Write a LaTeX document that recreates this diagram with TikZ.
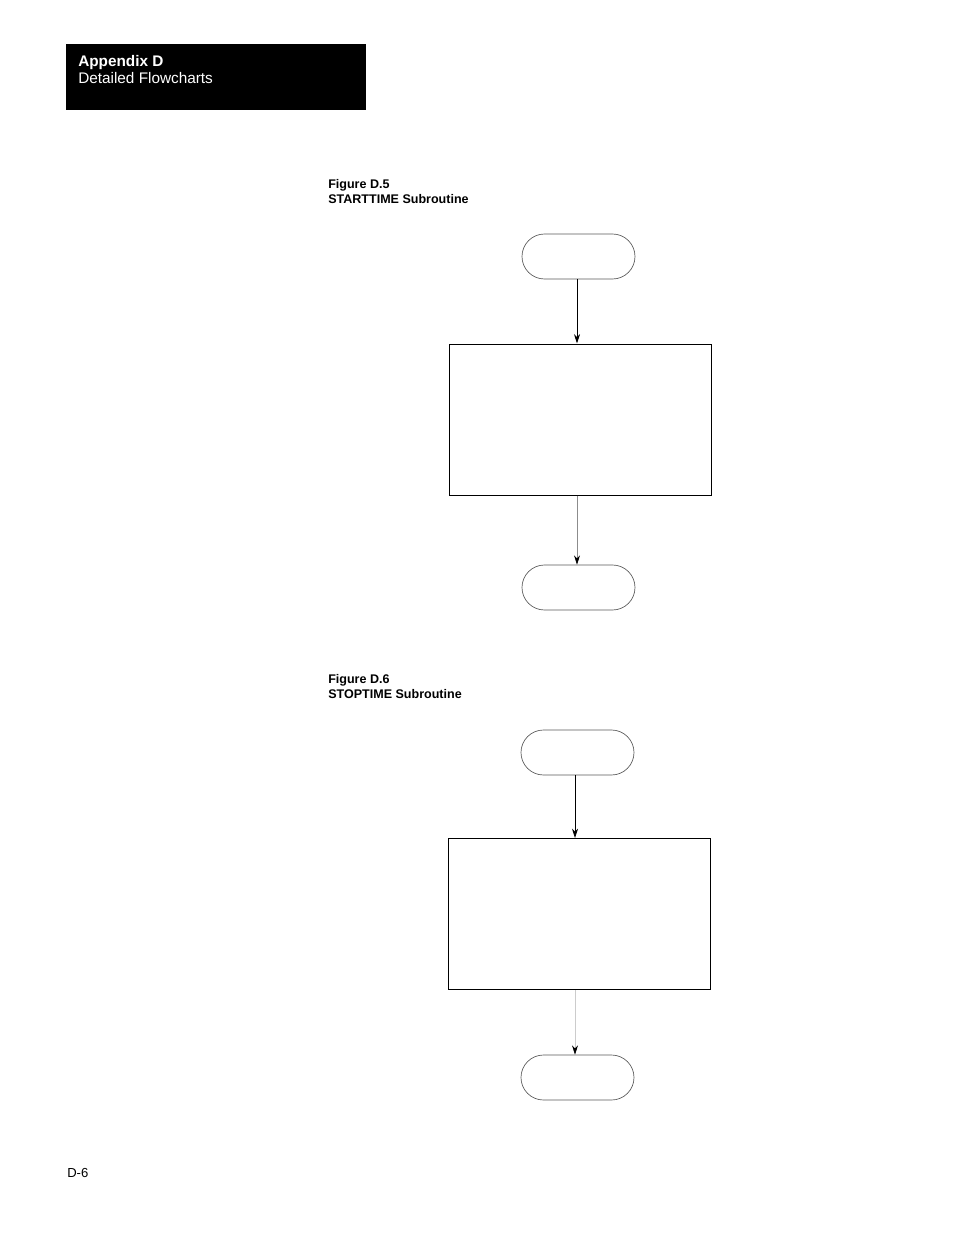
\documentclass[tikz,border=0pt]{standalone}
\usepackage{fontspec}
\setmainfont{Liberation Sans}
\usetikzlibrary{arrows.meta,shapes.misc}
\begin{document}
\begin{tikzpicture}[x=0.75pt,y=-0.75pt,
  term/.style={draw=black!65,line width=0.5pt,rounded rectangle,minimum width=84.75pt,minimum height=33.75pt,inner sep=0pt},
  procbox/.style={draw=black,line width=0.75pt,minimum width=196.5pt,minimum height=113.25pt,inner sep=0pt},
  flow/.style={line width=0.6pt,-{Stealth[length=7pt,width=4.5pt,color=black]}},
  txt/.style={inner sep=0pt,anchor=base west},
  captxt/.style={txt,font=\fontsize{9.4pt}{11pt}\selectfont\bfseries}]
\useasboundingbox (0,0) rectangle (954,1235);
\fill[white] (0,0) rectangle (954,1235);
% header
\fill[black] (66,44) rectangle (366,110);
\node[txt,text=white,font=\fontsize{11.5pt}{13pt}\selectfont\bfseries] (h1) at (78,66) {Appendix D};
\node[txt,text=white,font=\fontsize{11.5pt}{13pt}\selectfont] (h2) at (78,83) {Detailed Flowcharts};
% figure D.5
\node[captxt] (c1) at (328,188) {Figure D.5};
\node[captxt] (c2) at (328,203) {STARTTIME Subroutine};
\node[term] (t1) at (578.5,256.5) {};
\node[procbox] (b1) at (580,419.5) {};
\node[term] (t2) at (578.5,587.5) {};
\draw[flow] (t1.south -| 577,0) -- (b1.north -| 577,0);
\draw[flow,draw=black!45] (b1.south -| 577,0) -- (t2.north -| 577,0);
% figure D.6
\node[captxt] (c3) at (328,683) {Figure D.6};
\node[captxt] (c4) at (328,698) {STOPTIME Subroutine};
\node[term] (t3) at (577.5,752.5) {};
\node[procbox] (b2) at (579,914) {};
\node[term] (t4) at (577.5,1077.5) {};
\draw[flow] (t3.south -| 575,0) -- (b2.north -| 575,0);
\draw[flow,draw=black!20] (b2.south -| 575,0) -- (t4.north -| 575,0);
% page number
\node[txt,font=\fontsize{9.8pt}{11pt}\selectfont] (pg) at (67,1177) {D-6};
\end{tikzpicture}
\end{document}
